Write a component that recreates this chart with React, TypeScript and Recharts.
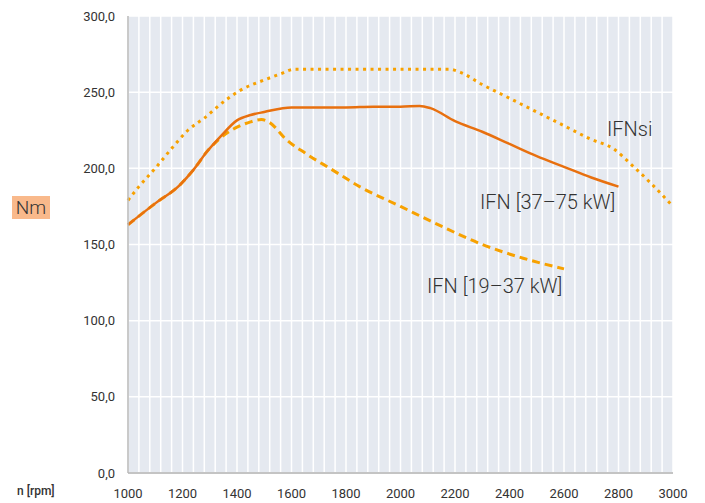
import { CartesianGrid, Line, LineChart, XAxis, YAxis } from "recharts";

const rpmTicks = [1000, 1200, 1400, 1600, 1800, 2000, 2200, 2400, 2600, 2800, 3000];
const nmTicks = [0, 50, 100, 150, 200, 250, 300];
const gridRpm = Array.from({ length: 51 }, (_, i) => 1000 + i * 40);

const ifnsiRpm = [1000, 1040, 1100, 1160, 1220, 1280, 1360, 1420, 1500, 1560, 1610, 1700, 1800, 1900, 2000, 2100, 2180, 2220, 2300, 2400, 2500, 2600, 2700, 2780, 2850, 2920, 3000];
const ifnsiNm = [179, 188, 200, 213, 225, 233, 245, 252, 258, 262, 265, 265, 265, 265, 265, 265, 265, 263, 255, 246, 237, 228, 219, 213, 202, 190, 175];

const ifn75Rpm = [1000, 1100, 1190, 1240, 1290, 1340, 1400, 1450, 1500, 1600, 1700, 1800, 1900, 2000, 2070, 2110, 2200, 2300, 2400, 2500, 2600, 2700, 2800];
const ifn75Nm = [163, 177, 189, 199, 211, 221, 231.5, 235, 237, 240, 240, 240, 240.5, 240.5, 241, 239.5, 231, 224, 216, 208, 201, 194, 188];

const ifn37Rpm = [1000, 1100, 1190, 1240, 1290, 1340, 1400, 1450, 1490, 1520, 1580, 1650, 1750, 1850, 2000, 2150, 2300, 2450, 2600];
const ifn37Nm = [163, 177, 189, 199, 211, 220, 227, 230.5, 232, 230, 219, 210, 199, 188, 175, 162, 150, 141, 134];

const toPoints = (xs: number[], ys: number[]) => xs.map((rpm, i) => ({ rpm, nm: ys[i] }));

const ifnsiData = toPoints(ifnsiRpm, ifnsiNm);
const ifn75Data = toPoints(ifn75Rpm, ifn75Nm);
const ifn37Data = toPoints(ifn37Rpm, ifn37Nm);

const font = "Roboto, 'DejaVu Sans', sans-serif";
const textColor = "#333";
const labelStyle = { position: "absolute" as const, fontSize: 20, fontWeight: 300, color: textColor, whiteSpace: "nowrap" as const };

export default function App() {
  return (
    <div style={{ position: "absolute", left: 0, top: 0, width: 705, height: 503, fontFamily: font }}>
      <LineChart width={705} height={503} margin={{ top: 16, right: 32, bottom: 0, left: 0 }}>
        <CartesianGrid
          fill="#e5e9f0"
          stroke="#ffffff"
          strokeWidth={1.5}
          verticalCoordinatesGenerator={({ xAxis, offset }: any) =>
            gridRpm.map((v) =>
              xAxis && typeof xAxis.scale === "function"
                ? xAxis.scale(v)
                : offset.left + ((v - 1000) / 2000) * offset.width
            )
          }
        />
        <XAxis
          dataKey="rpm"
          type="number"
          domain={[1000, 3000]}
          ticks={rpmTicks}
          allowDuplicatedCategory={false}
          height={30}
          tickLine={false}
          tickMargin={10}
          axisLine={{ stroke: "#c4c4c4", strokeWidth: 2 }}
          tick={{ fill: textColor, fontSize: 13, fontFamily: font }}
        />
        <YAxis
          type="number"
          domain={[0, 300]}
          ticks={nmTicks}
          width={128}
          tickLine={false}
          tickMargin={7}
          axisLine={{ stroke: "#b8b8b8", strokeWidth: 1.5 }}
          tick={{ fill: textColor, fontSize: 13, fontFamily: font }}
          tickFormatter={(v: number) => v.toFixed(1).replace(".", ",")}
        />
        <Line
          data={ifnsiData}
          dataKey="nm"
          type="monotone"
          stroke="#f7a100"
          strokeWidth={3}
          strokeDasharray="3 4.5"
          dot={false}
          isAnimationActive={false}
        />
        <Line
          data={ifn37Data}
          dataKey="nm"
          type="monotone"
          stroke="#f7a100"
          strokeWidth={3}
          strokeDasharray="8 5"
          dot={false}
          isAnimationActive={false}
        />
        <Line
          data={ifn75Data}
          dataKey="nm"
          type="monotone"
          stroke="#e8700f"
          strokeWidth={2.5}
          dot={false}
          isAnimationActive={false}
        />
      </LineChart>

      <div style={{ ...labelStyle, left: 607, top: 117 }}>IFNsi</div>
      <div style={{ ...labelStyle, left: 480, top: 190 }}>IFN [37–75 kW]</div>
      <div style={{ ...labelStyle, left: 427, top: 274 }}>IFN [19–37 kW]</div>

      <div
        style={{
          position: "absolute",
          left: 12,
          top: 196,
          width: 38,
          height: 23,
          background: "#f9b98b",
          color: textColor,
          fontSize: 19,
          fontWeight: 300,
          lineHeight: "23px",
          textAlign: "center",
        }}
      >
        Nm
      </div>
      <div style={{ position: "absolute", left: 17, top: 484, fontSize: 12, fontWeight: 500, color: textColor }}>
        n [rpm]
      </div>
    </div>
  );
}
